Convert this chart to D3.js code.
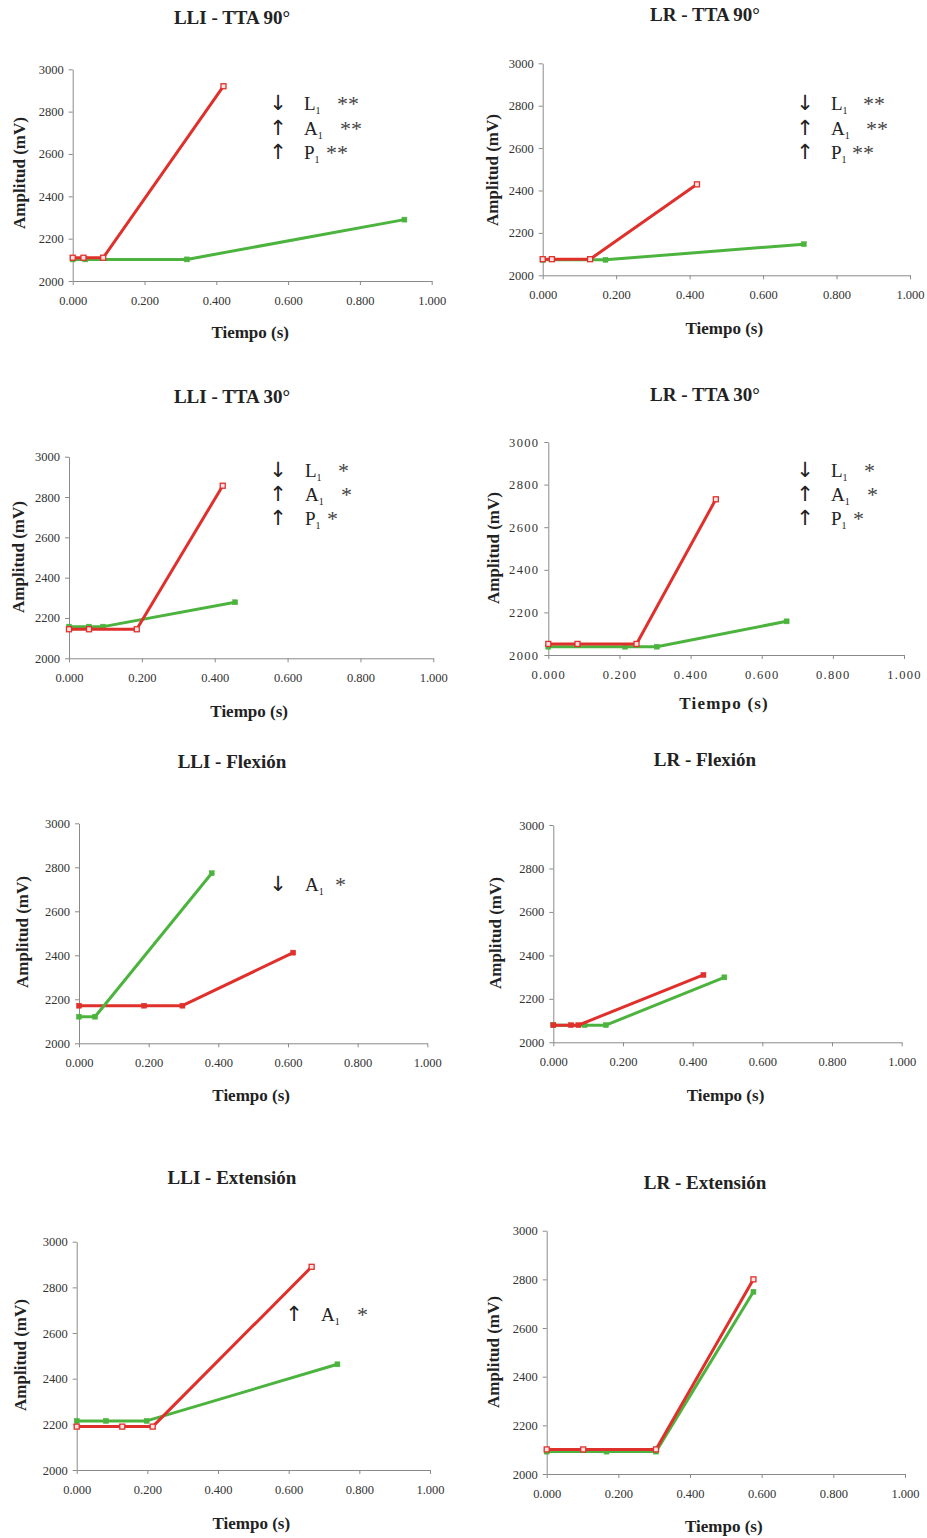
<!DOCTYPE html>
<html>
<head>
<meta charset="utf-8">
<script src="https://cdn.jsdelivr.net/npm/d3@7"></script>
<style>
    body { margin: 0; background: #fff; }
    text { font-family: "Liberation Serif", "DejaVu Serif", serif; fill: #222; }
    .tick text { fill: #333; }
    .domain, .tick line { stroke: #8a8a8a; }
</style>
</head>
<body>
<svg id="chart" width="927" height="1538"></svg>
<script>
"use strict";

// panel titles, in reading order
var titles = ["LLI - TTA 90°", "LR - TTA 90°", "LLI - TTA 30°", "LR - TTA 30°",
              "LLI - Flexión", "LR - Flexión", "LLI - Extensión", "LR - Extensión"];

var xTicks = [0, 0.2, 0.4, 0.6, 0.8, 1.0];
var yTicks = [2000, 2200, 2400, 2600, 2800, 3000];

// [tiempo (s), amplitud (mV)]
var lliTta90Red   = [[0, 2110], [0.03, 2110], [0.085, 2110], [0.42, 2920]];
var lliTta90Green = [[0, 2102], [0.035, 2102], [0.318, 2102], [0.924, 2290]];
var lrTta90Red    = [[0, 2076], [0.025, 2076], [0.129, 2076], [0.42, 2429]];
var lrTta90Green  = [[0, 2073], [0.171, 2073], [0.711, 2147]];
var lliTta30Red   = [[0, 2144], [0.055, 2144], [0.186, 2144], [0.422, 2856]];
var lliTta30Green = [[0, 2157], [0.055, 2157], [0.094, 2157], [0.456, 2278]];
var lrTta30Red    = [[0, 2052], [0.082, 2052], [0.248, 2052], [0.471, 2731]];
var lrTta30Green  = [[0, 2039], [0.216, 2039], [0.305, 2039], [0.67, 2158]];
var lliFlexRed    = [[0, 2171], [0.187, 2171], [0.297, 2171], [0.615, 2412]];
var lliFlexGreen  = [[0, 2121], [0.046, 2121], [0.381, 2773]];
var lrFlexRed     = [[0, 2079], [0.051, 2079], [0.072, 2079], [0.431, 2310]];
var lrFlexGreen   = [[0, 2079], [0.09, 2079], [0.151, 2079], [0.491, 2299]];
var lliExtRed     = [[0, 2190], [0.129, 2190], [0.215, 2190], [0.665, 2890]];
var lliExtGreen   = [[0, 2215], [0.083, 2215], [0.198, 2215], [0.738, 2463]];
var lrExtRed      = [[0, 2101], [0.102, 2101], [0.305, 2101], [0.577, 2800]];
var lrExtGreen    = [[0, 2092], [0.167, 2092], [0.305, 2092], [0.577, 2749]];

// significance notes: arrow, variable, stars
var notesTta90 = [["↓", "L", "**"], ["↑", "A", "**"], ["↑", "P", "**"]];
var notesTta30 = [["↓", "L", "*"], ["↑", "A", "*"], ["↑", "P", "*"]];
var notesLliFlex = [["↓", "A", "*"]];
var notesLliExt = [["↑", "A", "*"]];

var series = [
    { red: lliTta90Red, green: lliTta90Green, notes: notesTta90 },
    { red: lrTta90Red,  green: lrTta90Green,  notes: notesTta90 },
    { red: lliTta30Red, green: lliTta30Green, notes: notesTta30 },
    { red: lrTta30Red,  green: lrTta30Green,  notes: notesTta30 },
    { red: lliFlexRed,  green: lliFlexGreen,  notes: notesLliFlex },
    { red: lrFlexRed,   green: lrFlexGreen,   notes: [] },
    { red: lliExtRed,   green: lliExtGreen,   notes: notesLliExt },
    { red: lrExtRed,    green: lrExtGreen,    notes: [] }
];

// positions of each panel in the page (pixels)
var layout = [
    { x0: 72.7, x1: 431.7, yt: 69.3, yb: 281, tx: 232, ty: 24, ly: 173, lx: 19, xt: 338,
      ax: 278, nx: 304, sx: [337, 340, 326], ny: [110, 135, 159], redHollow: true, greenTop: false },
    { x0: 542.7, x1: 910, yt: 63.3, yb: 275.3, tx: 705, ty: 21, ly: 170, lx: 492, xt: 334,
      ax: 805, nx: 831, sx: [863, 866, 852], ny: [110, 135, 159], redHollow: true, greenTop: false },
    { x0: 69, x1: 433.3, yt: 456.7, yb: 658.3, tx: 232, ty: 403, ly: 557, lx: 18, xt: 717,
      ax: 278, nx: 305, sx: [338, 341, 327], ny: [477, 501, 525], redHollow: true, greenTop: false },
    { x0: 548.3, x1: 904, yt: 442, yb: 655, tx: 705, ty: 401, ly: 548, lx: 493, xt: 709,
      ax: 805, nx: 831, sx: [864, 867, 853], ny: [477, 501, 525], redHollow: true, greenTop: false, spaced: true },
    { x0: 79, x1: 427.3, yt: 823.3, yb: 1043.3, tx: 232, ty: 768, ly: 932, lx: 22, xt: 1101,
      ax: 278, nx: 305, sx: [335], ny: [891], redHollow: false, greenTop: true },
    { x0: 553.3, x1: 901.7, yt: 825, yb: 1042.3, tx: 705, ty: 766, ly: 933, lx: 495, xt: 1101,
      ax: 0, nx: 0, sx: [], ny: [], redHollow: false, greenTop: false },
    { x0: 76.7, x1: 430, yt: 1241.7, yb: 1470, tx: 232, ty: 1184, ly: 1355, lx: 20, xt: 1529,
      ax: 294, nx: 321, sx: [357], ny: [1321], redHollow: true, greenTop: false },
    { x0: 546.7, x1: 905, yt: 1230.7, yb: 1474, tx: 705, ty: 1189, ly: 1352, lx: 493, xt: 1532,
      ax: 0, nx: 0, sx: [], ny: [], redHollow: true, greenTop: false }
];

var RED = "#e0302c";
var GREEN = "#4cb43e";

var svg = d3.select("#chart");
svg.append("rect").attr("width", 927).attr("height", 1538).attr("fill", "#fff");

function drawSeries(g, pts, x, y, color, hollow)
{
    var line = d3.line().x((d) => x(d[0])).y((d) => y(d[1]));

    g.append("path")
        .datum(pts)
        .attr("d", line)
        .attr("fill", "none")
        .attr("stroke", color)
        .attr("stroke-width", 3)
        .attr("stroke-linejoin", "round");

    g.selectAll(null)
        .data(pts)
        .enter()
        .append("rect")
        .attr("x", (d) => x(d[0]) - 2.5)
        .attr("y", (d) => y(d[1]) - 2.5)
        .attr("width", 5)
        .attr("height", 5)
        .attr("fill", hollow ? "#fbe3e3" : color)
        .attr("stroke", color)
        .attr("stroke-width", hollow ? 1.3 : 0.5);
}

series.forEach(function (s, i) {
    var L = layout[i];
    var g = svg.append("g");

    var x = d3.scaleLinear().domain([0, 1]).range([L.x0, L.x1]);
    var y = d3.scaleLinear().domain([2000, 3000]).range([L.yb, L.yt]);

    g.append("g")
        .attr("transform", "translate(0," + L.yb + ")")
        .call(d3.axisBottom(x).tickValues(xTicks).tickFormat(d3.format(".3f"))
            .tickSize(4).tickSizeOuter(0).tickPadding(11));

    g.append("g")
        .attr("transform", "translate(" + L.x0 + ",0)")
        .call(d3.axisLeft(y).tickValues(yTicks).tickFormat(d3.format("d"))
            .tickSize(4).tickSizeOuter(0).tickPadding(5));

    g.selectAll(".tick text")
        .attr("font-size", 12.5)
        .attr("letter-spacing", L.spaced ? 1.3 : 0);

    // title
    g.append("text")
        .attr("x", L.tx).attr("y", L.ty)
        .attr("text-anchor", "middle")
        .attr("font-size", 19)
        .attr("font-weight", "bold")
        .text(titles[i]);

    // axis titles
    g.append("text")
        .attr("x", (L.x0 + L.x1) / 2 - 2).attr("y", L.xt)
        .attr("text-anchor", "middle")
        .attr("font-size", 17)
        .attr("font-weight", "bold")
        .attr("letter-spacing", L.spaced ? 1.2 : 0)
        .text("Tiempo (s)");

    g.append("text")
        .attr("transform", "translate(" + (L.lx + 6) + "," + L.ly + ") rotate(-90)")
        .attr("text-anchor", "middle")
        .attr("font-size", 17)
        .attr("font-weight", "bold")
        .text("Amplitud (mV)");

    // lines
    if (L.greenTop) {
        drawSeries(g, s.red, x, y, RED, L.redHollow);
        drawSeries(g, s.green, x, y, GREEN, false);
    } else {
        drawSeries(g, s.green, x, y, GREEN, false);
        drawSeries(g, s.red, x, y, RED, L.redHollow);
    }

    // significance notes
    s.notes.forEach(function (n, k) {
        var by = L.ny[k];
        g.append("text")
            .attr("x", L.ax).attr("y", by)
            .attr("text-anchor", "middle")
            .style("font-family", "'DejaVu Sans', sans-serif")
            .style("font-size", "21px")
            .text(n[0]);
        var t = g.append("text")
            .attr("x", L.nx).attr("y", by)
            .attr("font-size", 19);
        t.append("tspan").text(n[1]);
        t.append("tspan").attr("font-size", 10).attr("dy", 4).text("1");
        g.append("text")
            .attr("x", L.sx[k]).attr("y", by + 1)
            .attr("font-size", 22)
            .attr("letter-spacing", 0)
            .style("fill", "#444")
            .text(n[2]);
    });
});
</script>
</body>
</html>
